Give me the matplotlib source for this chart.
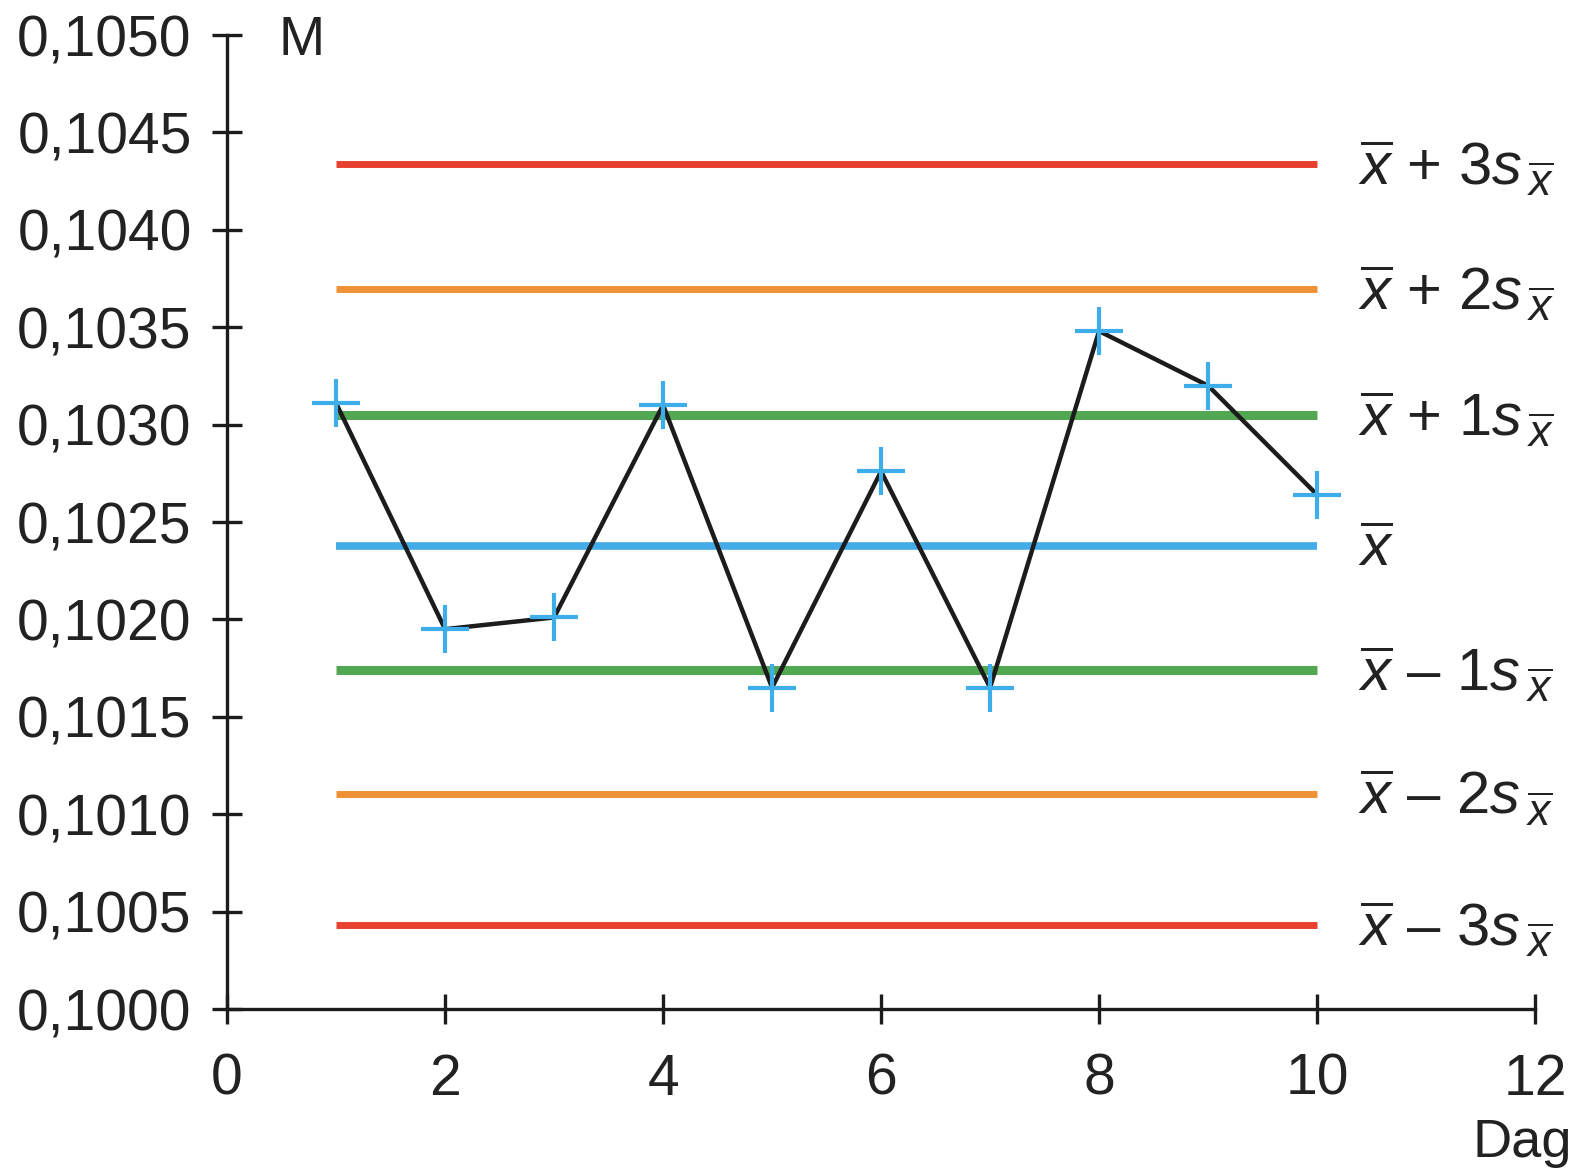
import matplotlib
matplotlib.use("Agg")
import matplotlib.pyplot as plt
from matplotlib.transforms import IdentityTransform

plt.rcParams['font.family'] = ['Liberation Sans', 'DejaVu Sans']
plt.rcParams['mathtext.fontset'] = 'custom'
plt.rcParams['mathtext.rm'] = 'Liberation Sans'
plt.rcParams['mathtext.it'] = 'Liberation Sans:italic'
plt.rcParams['mathtext.bf'] = 'Liberation Sans:bold'

# Data
days = [1, 2, 3, 4, 5, 6, 7, 8, 9, 10]
values = [0.10311, 0.10195, 0.10201, 0.10310, 0.10165, 0.10276, 0.10165, 0.10348, 0.10320, 0.10264]
limit_values = [0.104336, 0.103695, 0.103049, 0.102378, 0.101740, 0.101104, 0.100431]
limit_main = [r'$\overline{\mathit{x}}$ + 3$\mathit{s}$',
              r'$\overline{\mathit{x}}$ + 2$\mathit{s}$',
              r'$\overline{\mathit{x}}$ + 1$\mathit{s}$',
              r'$\overline{\mathit{x}}$',
              r'$\overline{\mathit{x}}$ – 1$\mathit{s}$',
              r'$\overline{\mathit{x}}$ – 2$\mathit{s}$',
              r'$\overline{\mathit{x}}$ – 3$\mathit{s}$']
limit_sub = [True, True, True, False, True, True, True]
limit_colors = ['#e8402f', '#ef9236', '#52a752', '#44abe8', '#52a752', '#ef9236', '#e8402f']
limit_widths = [5.0, 5.0, 6.5, 5.5, 6.5, 5.0, 5.0]
xticks = [0, 2, 4, 6, 8, 10, 12]
yticks = [0.1000, 0.1005, 0.1010, 0.1015, 0.1020, 0.1025, 0.1030, 0.1035, 0.1040, 0.1045, 0.1050]

TXT = '#222222'
fig = plt.figure(figsize=(15.78, 11.71), dpi=100)
ax = fig.add_axes([0.1439, 0.13834, 0.8289, 0.83177])

for yv, c, lw in zip(limit_values, limit_colors, limit_widths):
    ax.plot([days[0], days[-1]], [yv, yv], color=c, lw=lw, solid_capstyle='butt', zorder=2)

ax.plot(days, values, color='#1c1c1c', lw=3.2, zorder=3)
ax.plot(days, values, ls='none', marker='+', markersize=34, mew=3.0, color='#3daee9', zorder=4)

ax.set_xlim(0, 12)
ax.set_ylim(0.1000, 0.1050)
ax.set_xticks(xticks)
ax.set_yticks(yticks)
ax.set_xticklabels([str(t) for t in xticks])
ax.set_yticklabels([f"{t:.4f}".replace('.', ',') for t in yticks])
for side in ['top', 'right']:
    ax.spines[side].set_visible(False)
for side in ['left', 'bottom']:
    ax.spines[side].set_linewidth(2.4)
    ax.spines[side].set_color('#1c1c1c')
ax.tick_params(axis='both', direction='inout', length=21, width=2.4, color='#1c1c1c',
               labelsize=41, labelcolor=TXT)
ax.tick_params(axis='y', pad=15)
ax.tick_params(axis='x', pad=21)

ax.text(0.47, 0.10497, 'M', fontsize=40, va='center', ha='left', color=TXT)
fig.text(0.9962, 0.012, 'Dag', fontsize=39, va='baseline', ha='right', color=TXT)

# right-hand labels, placed in display pixels relative to each line
fig.canvas.draw()
renderer = fig.canvas.get_renderer()
x_start = 1358
for yv, lab, has_sub in zip(limit_values, limit_main, limit_sub):
    _, ypix = ax.transData.transform((10, yv))
    t = fig.text(x_start, ypix - 20, lab, fontsize=43, va='baseline', ha='left',
                 color=TXT, transform=IdentityTransform())
    if has_sub:
        bb = t.get_window_extent(renderer)
        fig.text(bb.x1 + 5, ypix - 32, r'$\overline{\mathit{x}}$', fontsize=32,
                 va='baseline', ha='left', color=TXT, transform=IdentityTransform())

fig.savefig('out.png', dpi=100, facecolor='white')
